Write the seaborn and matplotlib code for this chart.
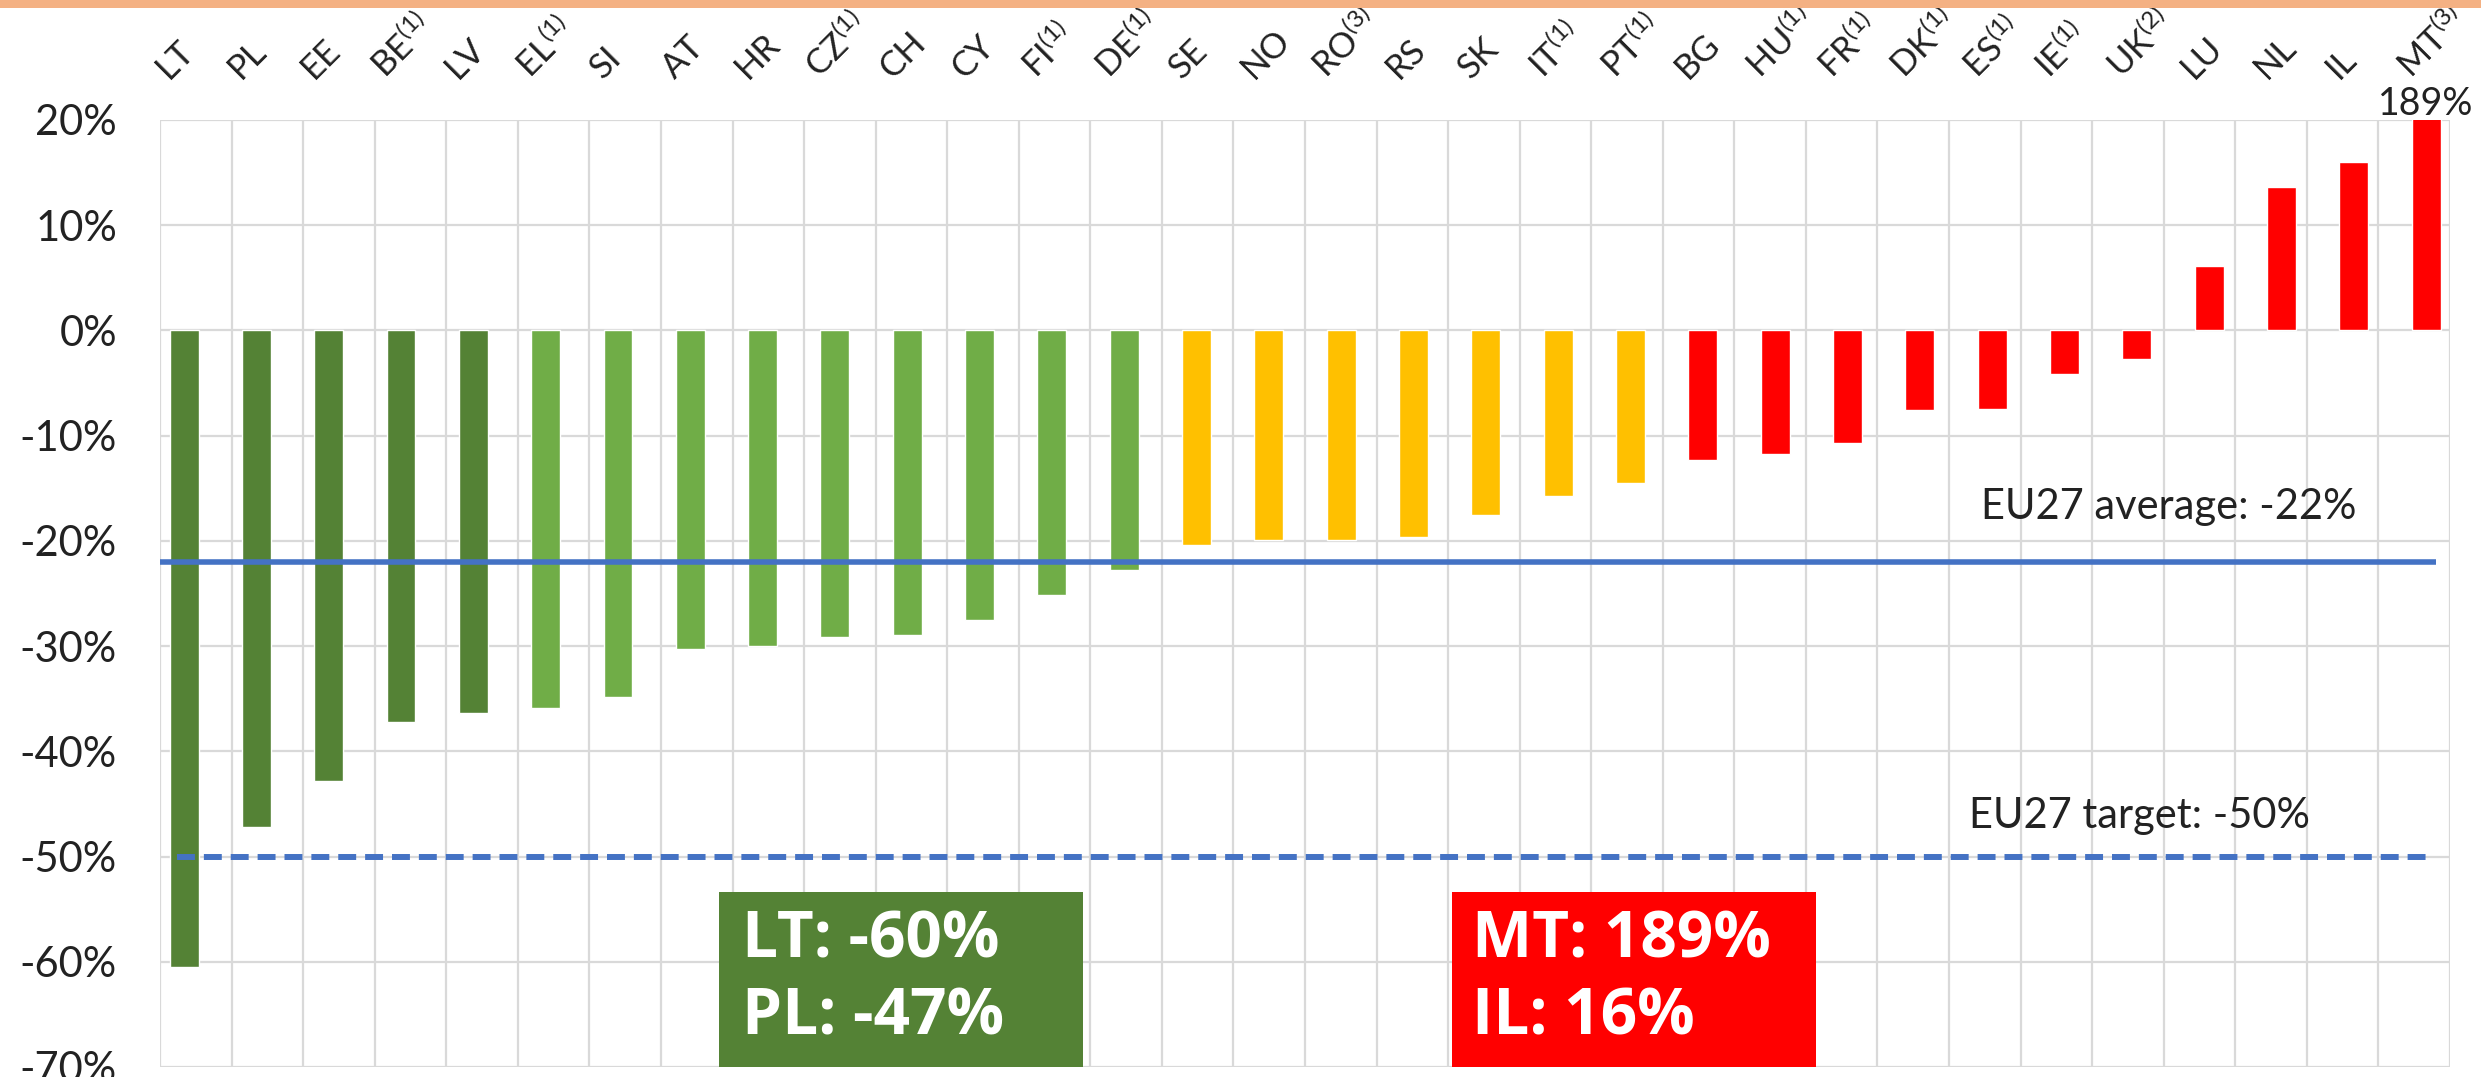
import numpy as np
import pandas as pd
import seaborn as sns
import matplotlib.pyplot as plt
from matplotlib.patches import Rectangle
from matplotlib.transforms import ScaledTranslation

countries = ["LT", "PL", "EE", "BE$^{(1)}$", "LV", "EL$^{(1)}$", "SI", "AT", "HR", "CZ$^{(1)}$",
             "CH", "CY", "FI$^{(1)}$", "DE$^{(1)}$", "SE", "NO", "RO$^{(3)}$", "RS", "SK", "IT$^{(1)}$",
             "PT$^{(1)}$", "BG", "HU$^{(1)}$", "FR$^{(1)}$", "DK$^{(1)}$", "ES$^{(1)}$", "IE$^{(1)}$",
             "UK$^{(2)}$", "LU", "NL", "IL", "MT$^{(3)}$"]
change = [-60.5, -47.2, -42.8, -37.2, -36.4, -35.9, -34.8, -30.3, -30.0, -29.1,
          -28.9, -27.5, -25.1, -22.8, -20.4, -19.9, -19.9, -19.6, -17.5, -15.7,
          -14.5, -12.3, -11.7, -10.7, -7.6, -7.5, -4.1, -2.7, 6.1, 13.6, 16.0, 189.0]
groups = ["dark"] * 5 + ["light"] * 9 + ["amber"] * 7 + ["red"] * 11
group_colors = {"dark": "#548235", "light": "#70AD47", "amber": "#FFC000", "red": "#FF0000"}

eu_average = -22
eu_target = -50
yticks = [20, 10, 0, -10, -20, -30, -40, -50, -60, -70]

df = pd.DataFrame({"country": countries, "change": change, "group": groups})

sns.set_style("white")
plt.rcParams["font.family"] = ["Lato", "DejaVu Sans"]
plt.rcParams["mathtext.fontset"] = "custom"
plt.rcParams["mathtext.rm"] = "Lato"
plt.rcParams["mathtext.it"] = "Lato:italic"

fig = plt.figure(figsize=(24.81, 10.77), dpi=100)
ax = fig.add_axes([0.0645, 0.0093, 0.923, 0.8793])

sns.barplot(data=df, x="country", y="change", hue="group", palette=group_colors,
            saturation=1, dodge=False, width=0.4, legend=False, ax=ax, zorder=3)

# excel-like category frame (slightly wider than the bar spacing)
xlo, xhi = -0.332, 31.33
ax.set_xlim(xlo, xhi)
ax.set_ylim(-70, 20)
ax.set_yticks(yticks)
ax.set_yticklabels([f"{v}%" for v in yticks], fontsize=30, color="#222222")
ax.tick_params(axis="y", length=0, pad=31)
ax.set_xlabel("")
ax.set_ylabel("")

# grid: horizontal every 10%, vertical between categories
ax.set_xticks(np.linspace(xlo, xhi, len(countries) + 1), minor=True)
ax.tick_params(axis="x", which="minor", length=0)
ax.grid(axis="y", which="major", color="#D9D9D9", lw=1.6, zorder=0)
ax.grid(axis="x", which="minor", color="#D9D9D9", lw=1.6, zorder=0)
for s in ax.spines.values():
    s.set_visible(False)

# category labels on top
ax.xaxis.tick_top()
ax.set_xticks(range(len(countries)))
ax.tick_params(axis="x", which="major", length=0, pad=29)
ax.set_xticklabels(countries, fontsize=25, color="#222222")
shift = ScaledTranslation(-0.15, 0, fig.dpi_scale_trans)
for lab in ax.get_xticklabels():
    lab.set_rotation(45)
    lab.set_ha("left")
    lab.set_va("baseline")
    lab.set_rotation_mode("anchor")
    lab.set_transform(lab.get_transform() + shift)

# EU27 reference lines
ax.hlines(eu_average, xlo, 31.14, color="#4472C4", lw=4, zorder=4)
ax.hlines(eu_target, -0.1, 31.0, color="#4472C4", lw=4.3, linestyles=(0, (3.0, 1.5)), zorder=4)
ax.text(27.44, -16.8, f"EU27 average: {eu_average}%", fontsize=30, ha="center", va="center",
        color="#222222", zorder=5)
ax.text(27.04, -46.1, f"EU27 target: {eu_target}%", fontsize=30, ha="center", va="center",
        color="#222222", zorder=5)

# clipped MT value
ax.text(len(countries) - 1, 20.5, f"{change[-1]:.0f}%", fontsize=27, ha="center", va="baseline",
        color="#222222")

# highlight boxes
box_font = dict(fontsize=46, fontweight="bold", family="Open Sans", color="white",
                ha="left", va="center", zorder=7)
ax.add_patch(Rectangle((0.244, 0.0), 0.159, 0.185, transform=ax.transAxes,
                       facecolor="#548235", edgecolor="none", zorder=6))
ax.text(0.254, 0.133, f"LT: {change[0]:.0f}%", transform=ax.transAxes, **box_font)
ax.text(0.254, 0.052, f"PL: {change[1]:.0f}%", transform=ax.transAxes, **box_font)

ax.add_patch(Rectangle((0.564, 0.0), 0.159, 0.185, transform=ax.transAxes,
                       facecolor="#FF0000", edgecolor="none", zorder=6))
ax.text(0.573, 0.133, f"MT: {change[-1]:.0f}%", transform=ax.transAxes, **box_font)
ax.text(0.573, 0.052, f"IL: {change[-2]:.0f}%", transform=ax.transAxes, **box_font)

# orange band at the top
fig.patches.append(Rectangle((0, 0.9926), 1, 0.0074, transform=fig.transFigure,
                             facecolor="#F4B183", edgecolor="none"))

fig.savefig("out.png", dpi=100)
